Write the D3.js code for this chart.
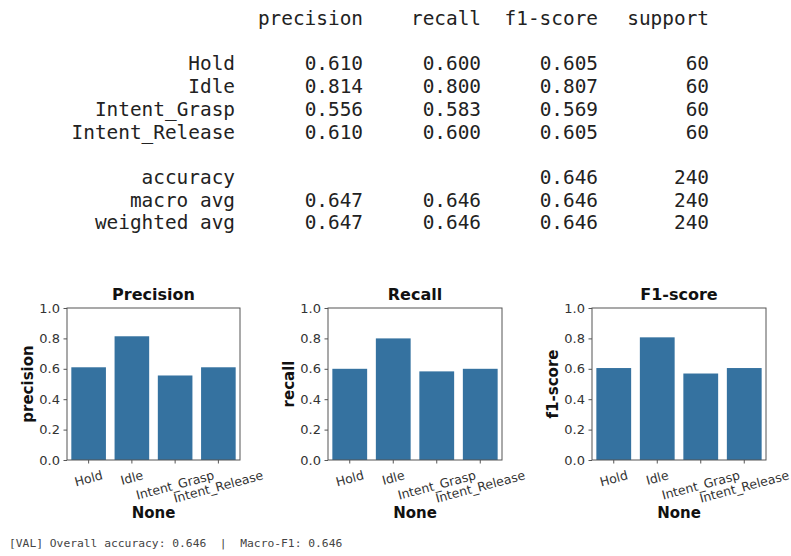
<!DOCTYPE html>
<html>
<head>
<meta charset="utf-8">
<script src="https://cdn.jsdelivr.net/npm/d3@7"></script>
<style>
    body { margin: 0; background: #fff; }
    svg { display: block; }
</style>
</head>
<body>
<script>
// classification report + per-class bar charts

var classes = ["Hold", "Idle", "Intent_Grasp", "Intent_Release"];
var precision = [0.610, 0.814, 0.556, 0.610];
var recall = [0.600, 0.800, 0.583, 0.600];
var f1score = [0.605, 0.807, 0.569, 0.605];
var support = [60, 60, 60, 60];

var avgNames = ["accuracy", "macro avg", "weighted avg"];
var avgPrecision = [null, 0.647, 0.647];
var avgRecall = [null, 0.646, 0.646];
var avgF1 = [0.646, 0.646, 0.646];
var avgSupport = [240, 240, 240];

var headers = ["precision", "recall", "f1-score", "support"];
var yTicks = [0.0, 0.2, 0.4, 0.6, 0.8, 1.0];
var footer = "[VAL] Overall accuracy: 0.646  |  Macro-F1: 0.646";

var W = 791, H = 556;
var mono = "'DejaVu Sans Mono', 'Liberation Mono', monospace";
var sans = "'DejaVu Sans', 'Liberation Sans', sans-serif";
var barColor = "#3572a0";
var f3 = d3.format(".3f");

var svg = d3.select("body").append("svg")
    .attr("width", W)
    .attr("height", H);

svg.append("rect").attr("width", W).attr("height", H).attr("fill", "#fff");

// ---- text report ----
var colRight = [235, 363, 481, 598, 709];
var rowStep = 22.7, row0 = 25;

var report = svg.append("g")
    .attr("font-family", mono)
    .attr("font-size", 19.4)
    .attr("fill", "#222")
    .attr("text-anchor", "end");

function reportRow(r, cells) {
    cells.forEach(function(c, i) {
        if (c === null) return;
        report.append("text")
            .attr("x", colRight[i])
            .attr("y", row0 + r * rowStep)
            .text(c);
    });
}

reportRow(0, [null].concat(headers));
classes.forEach(function(c, i) {
    reportRow(2 + i, [c, f3(precision[i]), f3(recall[i]), f3(f1score[i]), support[i]]);
});
avgNames.forEach(function(n, i) {
    reportRow(7 + i, [n,
        avgPrecision[i] === null ? null : f3(avgPrecision[i]),
        avgRecall[i] === null ? null : f3(avgRecall[i]),
        f3(avgF1[i]), avgSupport[i]]);
});

// ---- bar panels ----
var panels = [
    { title: "Precision", ylab: "precision", values: precision, left: 67, right: 240 },
    { title: "Recall", ylab: "recall", values: recall, left: 328, right: 502 },
    { title: "F1-score", ylab: "f1-score", values: f1score, left: 592, right: 766 }
];
var plotTop = 308, plotBottom = 460;
var rot = 15 * Math.PI / 180;

panels.forEach(function(p) {
    var x = d3.scaleBand()
        .domain(classes)
        .range([p.left, p.right])
        .paddingInner(0.2)
        .paddingOuter(0.1);

    var y = d3.scaleLinear()
        .domain([0, 1])
        .range([plotBottom, plotTop]);

    var g = svg.append("g");

    // bars
    g.selectAll(".bar")
        .data(p.values)
        .enter().append("rect")
        .attr("class", "bar")
        .attr("x", function(d, i) { return x(classes[i]); })
        .attr("y", function(d) { return y(d); })
        .attr("width", x.bandwidth())
        .attr("height", function(d) { return y(0) - y(d); })
        .attr("fill", barColor);

    // y axis
    var yAxis = g.append("g")
        .attr("transform", "translate(" + p.left + ",0)")
        .call(d3.axisLeft(y).tickValues(yTicks).tickFormat(d3.format(".1f")).tickSize(3.5).tickPadding(3.5));
    yAxis.select(".domain").remove();
    yAxis.selectAll("line").attr("stroke", "#555");
    yAxis.selectAll("text")
        .attr("font-family", sans)
        .attr("font-size", 13)
        .attr("fill", "#333");

    // x axis ticks
    var xAxis = g.append("g")
        .attr("transform", "translate(0," + plotBottom + ")")
        .call(d3.axisBottom(x).tickSize(3.5).tickFormat(""));
    xAxis.select(".domain").remove();
    xAxis.selectAll("line").attr("stroke", "#555");

    // rotated x tick labels, box centred under tick
    classes.forEach(function(c) {
        var t = g.append("text")
            .attr("font-family", sans)
            .attr("font-size", 12.5)
            .attr("fill", "#333")
            .attr("text-anchor", "middle")
            .attr("dy", "0.35em")
            .text(c);
        var L = t.node().getComputedTextLength();
        var cy = plotBottom + 9 + (L * Math.sin(rot) + 12 * Math.cos(rot)) / 2;
        var cx = x(c) + x.bandwidth() / 2;
        t.attr("transform", "translate(" + cx + "," + cy + ") rotate(-15)");
    });

    // frame
    g.append("rect")
        .attr("x", p.left)
        .attr("y", plotTop)
        .attr("width", p.right - p.left)
        .attr("height", plotBottom - plotTop)
        .attr("fill", "none")
        .attr("stroke", "#555")
        .attr("stroke-width", 1);

    var mid = (p.left + p.right) / 2;

    g.append("text")
        .attr("x", mid)
        .attr("y", 300)
        .attr("text-anchor", "middle")
        .attr("font-family", sans)
        .attr("font-weight", "bold")
        .attr("font-size", 16)
        .attr("fill", "#111")
        .text(p.title);

    g.append("text")
        .attr("transform", "translate(" + (p.left - 39) + "," + ((plotTop + plotBottom) / 2) + ") rotate(-90)")
        .attr("text-anchor", "middle")
        .attr("dy", "0.35em")
        .attr("font-family", sans)
        .attr("font-weight", "bold")
        .attr("font-size", 15)
        .attr("fill", "#111")
        .text(p.ylab);

    g.append("text")
        .attr("x", mid)
        .attr("y", 518)
        .attr("text-anchor", "middle")
        .attr("font-family", sans)
        .attr("font-weight", "bold")
        .attr("font-size", 15)
        .attr("fill", "#111")
        .text("None");
});

// footer line
svg.append("text")
    .attr("x", 9)
    .attr("y", 547)
    .attr("font-family", mono)
    .attr("font-size", 11.3)
    .attr("fill", "#444")
    .attr("xml:space", "preserve")
    .style("white-space", "pre")
    .text(footer);
</script>
</body>
</html>
